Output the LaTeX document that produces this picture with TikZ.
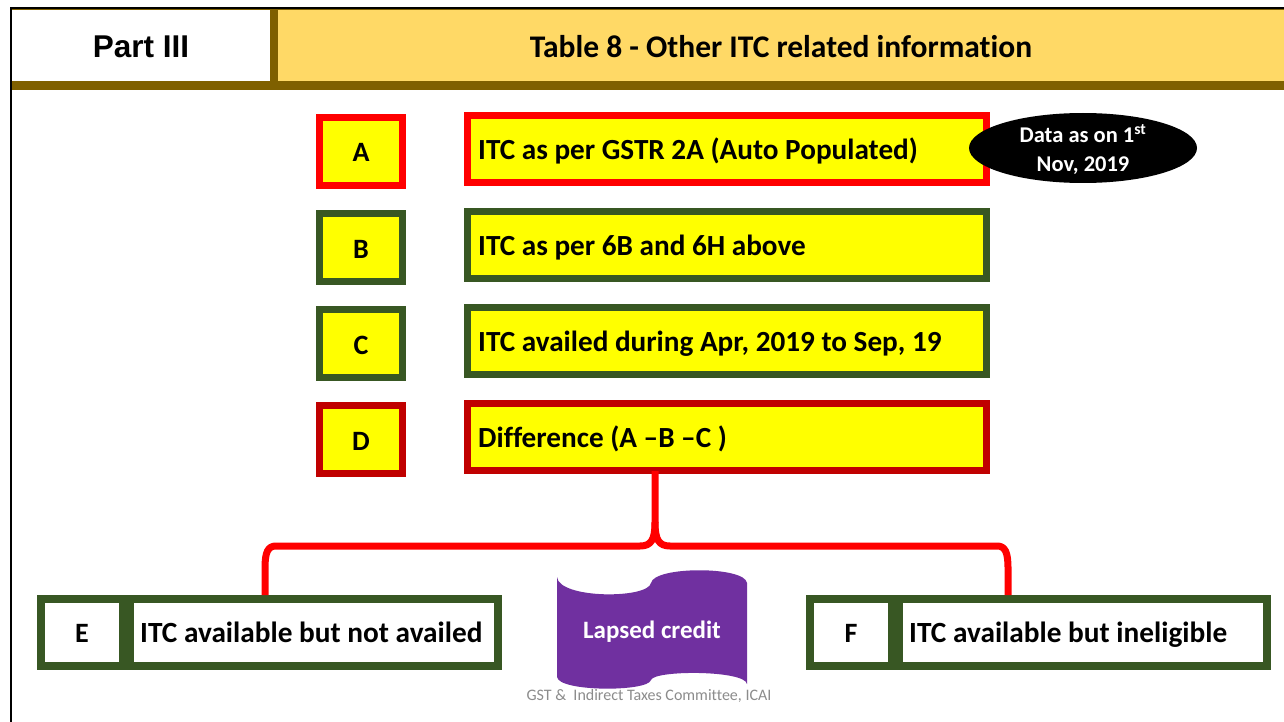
\documentclass[tikz,border=0pt]{standalone}
\usepackage{fontspec}
\setmainfont{Carlito}[Ligatures={NoCommon}]
\newfontfamily\arialf{Liberation Sans}
\usetikzlibrary{shapes.geometric}
\definecolor{hdrgold}{HTML}{FFD966}
\definecolor{hdrbrown}{HTML}{7F6000}
\definecolor{boxred}{HTML}{FF0000}
\definecolor{boxdred}{HTML}{C00000}
\definecolor{boxgreen}{HTML}{385723}
\definecolor{boxyellow}{HTML}{FFFF00}
\definecolor{lapsepurple}{HTML}{7030A0}
\definecolor{footgray}{HTML}{8C8C8C}
\begin{document}
\begin{tikzpicture}[x=1pt,y=-1pt,
  letterbox/.style={draw=#1, fill=boxyellow, line width=7pt, minimum width=83pt, minimum height=68pt, inner sep=0pt},
  itembox/.style={draw=#1, fill=boxyellow, line width=7pt, minimum width=519pt, minimum height=67pt, inner sep=0pt},
  lettertext/.style={anchor=base, font=\fontsize{28}{30}\selectfont\bfseries, inner sep=0pt},
  itemtext/.style={anchor=base west, font=\fontsize{29.2}{31}\selectfont\bfseries, inner sep=0pt},
  outbox/.style={draw=boxgreen, fill=white, line width=8pt, minimum width=457pt, minimum height=67pt, inner sep=0pt},
  sepbar/.style={fill=boxgreen, minimum width=15pt, minimum height=75pt, inner sep=0pt},
  outtext/.style={anchor=base west, font=\fontsize{29.3}{31}\selectfont\bfseries, inner sep=0pt},
  brace/.style={draw=boxred, line width=7pt, line join=round},
]
\useasboundingbox (0,0) rectangle (1284,722);
\fill[white] (0,0) rectangle (1284,722);
% frame lines
\draw[black, line width=2pt] (10,8) -- (1284,8);
\draw[black, line width=2pt] (10.5,8) -- (10.5,722);
% header
\fill[hdrgold] (278,10) rectangle (1284,81);
\fill[white] (12,10) rectangle (270,81);
\fill[hdrbrown] (12,9) rectangle (1284,10.5);
\fill[hdrbrown] (270,10) rectangle (278,90);
\fill[hdrbrown] (12,81) rectangle (1284,90);
\node[anchor=base, font=\arialf\bfseries\fontsize{31.5}{33}\selectfont, inner sep=0pt] (part) at (141,58) {Part III};
\node[anchor=base, font=\fontsize{31.5}{33}\selectfont\bfseries, inner sep=0pt] (title) at (781,58) {Table 8 - Other ITC related information};
% rows
\node[letterbox=boxred] (la) at (361,151.5) {};
\node[lettertext] (lat) at (361,162) {A};
\node[itembox=boxred] (ia) at (727,149) {};
\node[itemtext] (iat) at (478,159.5) {ITC as per GSTR 2A (Auto Populated)};
\node[letterbox=boxgreen] (lb) at (361,247.5) {};
\node[lettertext] (lbt) at (361,258) {B};
\node[itembox=boxgreen] (ib) at (727,244.5) {};
\node[itemtext] (ibt) at (478,255) {ITC as per 6B and 6H above};
\node[letterbox=boxgreen] (lc) at (361,343.5) {};
\node[lettertext] (lct) at (361,354) {C};
\node[itembox=boxgreen] (ic) at (727,340.5) {};
\node[itemtext] (ict) at (478,351) {ITC availed during Apr, 2019 to Sep, 19};
\node[letterbox=boxdred] (ld) at (361,439.5) {};
\node[lettertext] (ldt) at (361,450) {D};
\node[itembox=boxdred] (id) at (727,436.5) {};
\node[itemtext] (idt) at (478,447) {Difference (A --B --C )};
% ellipse
\node[ellipse, fill=black, minimum width=228pt, minimum height=70pt, inner sep=0pt] (data) at (1083,148) {};
\node[anchor=base, text=white, font=\fontsize{22.5}{29}\selectfont\bfseries, inner sep=0pt] (data1) at (1083,142.5) {Data as on 1\textsuperscript{st}};
\node[anchor=base, text=white, font=\fontsize{22.5}{29}\selectfont\bfseries, inner sep=0pt] (data2) at (1083,171.5) {Nov, 2019};
% bottom boxes
\node[outbox] (ebox) at (269.5,632.5) {};
\node[sepbar] (esep) at (126.5,632.5) {};
\node[lettertext] (eletter) at (82,642) {E};
\node[outtext] (etext) at (140,642) {ITC available but not availed};
\node[outbox] (fbox) at (1038.5,632.5) {};
\node[sepbar] (fsep) at (895.5,632.5) {};
\node[lettertext] (fletter) at (851,642) {F};
\node[outtext] (ftext) at (909,642) {ITC available but ineligible};
% brace
\coordinate (btop) at (655,471);
\coordinate (bmid) at (655,522);
\coordinate (eend) at (265,595);
\coordinate (fend) at (1008,595);
\draw[brace] (btop) -- (bmid) .. controls (655,540) and (651,546) .. (640,546) -- (276,546) .. controls (268,546) and (265,552) .. (265,568) -- (eend);
\draw[brace] (bmid) .. controls (655,540) and (659,546) .. (670,546) -- (997,546) .. controls (1005,546) and (1008,552) .. (1008,568) -- (fend);
% lapsed credit wave
\fill[lapsepurple] (557,577) .. controls (559,599) and (648,599) .. (651,583) .. controls (654,566) and (745,566) .. (747,583)
  -- (747,684) .. controls (745,670) and (654,670) .. (651,680) .. controls (648,692) and (559,692) .. (557,677) -- cycle;
\node[anchor=base, text=white, font=\fontsize{25}{27}\selectfont\bfseries, inner sep=0pt] (lapsed) at (652,638) {Lapsed credit};
\node[anchor=base, text=footgray, font=\fontsize{16}{18}\selectfont, inner sep=0pt] (footer) at (649,700) {GST \&\ \ Indirect Taxes Committee, ICAI};
\end{tikzpicture}
\end{document}
